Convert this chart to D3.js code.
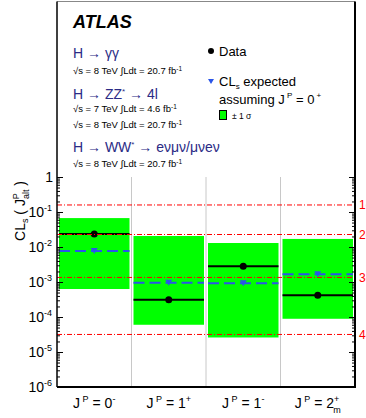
<!DOCTYPE html>
<html>
<head>
<meta charset="utf-8">
<script src="https://cdn.jsdelivr.net/npm/d3@7"></script>
<style>
  body { margin: 0; background: #fff; }
  svg { display: block; font-family: "Liberation Sans", Arial, sans-serif; }
</style>
</head>
<body>
<svg width="366" height="418"></svg>
<script>
// hypotheses (J^P of the alternative)
const spin = ['0', '1', '1', '2'];
const parity = ['-', '+', '-', '+'];
const subs = ['', '', '', 'm'];

// CLs values
const observed = [0.0235, 3.1e-4, 2.8e-3, 4.2e-4];
const expected = [0.0077, 9.5e-4, 9.2e-4, 1.66e-3];
const bandHi = [0.067, 0.0206, 0.013, 0.017];
const bandLo = [6.3e-4, 6.0e-5, 2.6e-5, 8.9e-5];

// sigma reference lines
const sigmaNames = ['1σ', '2σ', '3σ', '4σ'];
const sigmaVals = [0.1587, 0.02275, 0.00135, 3.17e-5];

const decades = [1e-6, 1e-5, 1e-4, 1e-3, 1e-2, 1e-1, 1];

const cats = spin.map((s, i) => i);
const pLeft = 57, pRight = 355, pTop = 1.5, pBottom = 387;

let svg = d3.select('svg');
let x = d3.scaleBand().domain(cats).range([pLeft, pRight]);
let y = d3.scaleLog().domain([1e-6, 1]).range([pBottom, 177]);

// green bands
svg.append('g').selectAll('rect')
    .data(cats)
    .enter()
    .append('rect')
    .attr('x', d => x(d) + 2)
    .attr('width', x.bandwidth() - 4)
    .attr('y', d => y(bandHi[d]))
    .attr('height', d => y(bandLo[d]) - y(bandHi[d]))
    .attr('fill', '#00ff00');

// separators
svg.append('g').selectAll('line')
    .data(cats.slice(1))
    .enter()
    .append('line')
    .attr('x1', d => x(d)).attr('x2', d => x(d))
    .attr('y1', y(1)).attr('y2', pBottom)
    .attr('stroke', '#c8c8c8')
    .attr('stroke-width', 1);

// expected (blue dashed + triangle)
let exp = svg.append('g');
exp.selectAll('line')
    .data(cats)
    .enter()
    .append('line')
    .attr('x1', d => x(d) + 2).attr('x2', d => x(d) + x.bandwidth() - 2)
    .attr('y1', d => y(expected[d])).attr('y2', d => y(expected[d]))
    .attr('stroke', '#2a55e8')
    .attr('stroke-width', 2)
    .attr('stroke-dasharray', '11,5');
exp.selectAll('path')
    .data(cats)
    .enter()
    .append('path')
    .attr('d', d => {
        let cx = x(d) + x.bandwidth() / 2, cy = y(expected[d]);
        return `M${cx - 3.5},${cy - 3}L${cx + 3.5},${cy - 3}L${cx},${cy + 3}Z`;
    })
    .attr('fill', '#2a55e8');

// observed (black line + dot)
let obs = svg.append('g');
obs.selectAll('line')
    .data(cats)
    .enter()
    .append('line')
    .attr('x1', d => x(d) + 2).attr('x2', d => x(d) + x.bandwidth() - 2)
    .attr('y1', d => y(observed[d])).attr('y2', d => y(observed[d]))
    .attr('stroke', '#000')
    .attr('stroke-width', 2);
obs.selectAll('circle')
    .data(cats)
    .enter()
    .append('circle')
    .attr('cx', d => x(d) + x.bandwidth() / 2)
    .attr('cy', d => y(observed[d]))
    .attr('r', 3.5)
    .attr('fill', '#000');

// sigma lines
let sig = svg.append('g');
sig.selectAll('line')
    .data(sigmaVals)
    .enter()
    .append('line')
    .attr('x1', pLeft).attr('x2', pRight)
    .attr('y1', d => y(d)).attr('y2', d => y(d))
    .attr('stroke', '#ff0000')
    .attr('stroke-width', 1)
    .attr('stroke-dasharray', '5,2,1,2');
sig.selectAll('text')
    .data(sigmaVals)
    .enter()
    .append('text')
    .attr('x', 359)
    .attr('y', d => y(d) + 4.5)
    .attr('fill', '#ff0000')
    .attr('font-size', 12)
    .text((d, i) => sigmaNames[i]);

// frame
svg.append('line').attr('x1', pLeft).attr('x2', pRight).attr('y1', pTop).attr('y2', pTop)
    .attr('stroke', '#888').attr('stroke-width', 1);
svg.append('line').attr('x1', pLeft).attr('x2', pLeft).attr('y1', pTop).attr('y2', pBottom)
    .attr('stroke', '#000').attr('stroke-width', 1.5);
svg.append('line').attr('x1', pRight).attr('x2', pRight).attr('y1', pTop).attr('y2', pBottom + 1)
    .attr('stroke', '#000').attr('stroke-width', 2);
svg.append('line').attr('x1', pLeft).attr('x2', pRight + 1).attr('y1', pBottom).attr('y2', pBottom)
    .attr('stroke', '#000').attr('stroke-width', 2);

// axes ticks
let minor = [];
decades.slice(0, -1).forEach(dec => {
    for (let k = 2; k <= 9; k++) minor.push(dec * k);
});

function styleAxis(g) {
    g.select('.domain').remove();
    g.selectAll('line').attr('stroke', '#000');
}

let yAxis = svg.append('g')
    .attr('transform', `translate(${pLeft},0)`)
    .call(d3.axisLeft(y).tickValues(decades).tickSize(-6).tickPadding(4).tickFormat(''))
    .call(styleAxis);
svg.append('g')
    .attr('transform', `translate(${pLeft},0)`)
    .call(d3.axisLeft(y).tickValues(minor).tickSize(-3).tickFormat(''))
    .call(styleAxis);
svg.append('g')
    .attr('transform', `translate(${pRight},0)`)
    .call(d3.axisRight(y).tickValues(decades).tickSize(-6).tickFormat(''))
    .call(styleAxis);
svg.append('g')
    .attr('transform', `translate(${pRight},0)`)
    .call(d3.axisRight(y).tickValues(minor).tickSize(-3).tickFormat(''))
    .call(styleAxis);

// y tick labels
yAxis.selectAll('.tick text')
    .attr('font-size', 14)
    .attr('font-family', '"Liberation Sans", Arial, sans-serif')
    .attr('fill', '#000')
    .each(function (d) {
        let t = d3.select(this);
        let e = Math.round(Math.log10(d));
        if (e === 0) {
            t.text('1').attr('dy', '0.32em');
        } else {
            t.attr('dy', '0.32em').attr('x', -5);
            t.append('tspan').text('10');
            t.append('tspan').attr('font-size', 9).attr('dy', -6).text(e);
        }
    });

// category labels
let xl = svg.append('g')
    .attr('font-size', 14);
cats.forEach(i => {
    let cx = x(i) + x.bandwidth() / 2;
    let t = xl.append('text').attr('x', cx).attr('y', 408).attr('text-anchor', 'middle');
    t.append('tspan').text('J');
    t.append('tspan').attr('font-size', 9).attr('dy', -6).text(' P');
    t.append('tspan').attr('dy', 6).text(' = ' + spin[i]);
    t.append('tspan').attr('font-size', 9).attr('dy', -6).text(parity[i]);
    if (subs[i]) {
        t.append('tspan').attr('font-size', 9).attr('dx', -6).attr('dy', 11).text(subs[i]);
    }
});

// y title
let yt = svg.append('text')
    .attr('transform', 'translate(25,211) rotate(-90)')
    .attr('text-anchor', 'middle')
    .attr('font-size', 14);
yt.append('tspan').text('CL');
yt.append('tspan').attr('font-size', 9).attr('dy', 3).text('s');
yt.append('tspan').attr('dy', -3).text(' ( J');
yt.append('tspan').attr('font-size', 9).attr('dy', -6).text('P');
yt.append('tspan').attr('font-size', 9).attr('dx', -6).attr('dy', 10).text('alt');
yt.append('tspan').attr('dy', -4).text(' )');

// ATLAS legend block
svg.append('text').attr('x', 73).attr('y', 28)
    .attr('font-size', 18).attr('font-weight', 'bold').attr('font-style', 'italic')
    .text('ATLAS');

const channels = ['H → γγ', 'H → ZZ* → 4l', 'H → WW* → eνμν/μνeν'];
const channelY = [58, 99, 152];
const lumiLines = [[74], [112, 128], [167]];
const lumiText = [['8', '20.7'], ['7', '4.6', '8', '20.7'], ['8', '20.7']];

let leg = svg.append('g');
channels.forEach((c, i) => {
    let t = leg.append('text').attr('x', 73).attr('y', channelY[i])
        .attr('font-size', 14).attr('fill', '#2b2b85');
    if (i === 0) {
        t.text(c);
    } else {
        let parts = c.split('*');
        t.append('tspan').text(parts[0]);
        t.append('tspan').attr('font-size', 8).attr('dy', -5).text('*');
        t.append('tspan').attr('dy', 5).text(parts[1]);
    }
    lumiLines[i].forEach((ly, j) => {
        let s = lumiText[i][2 * j], l = lumiText[i][2 * j + 1];
        let lt = leg.append('text').attr('x', 73).attr('y', ly).attr('font-size', 9.5);
        lt.append('tspan').text('√s = ' + s + ' TeV ∫Ldt = ' + l + ' fb');
        lt.append('tspan').attr('font-size', 6.5).attr('dy', -3.5).text('-1');
    });
});

// right legend
svg.append('circle').attr('cx', 211).attr('cy', 51).attr('r', 3).attr('fill', '#000');
svg.append('text').attr('x', 219).attr('y', 56).attr('font-size', 13).text('Data');
svg.append('path').attr('d', 'M208,79L214,79L211,84Z').attr('fill', '#2a55e8');
let cl = svg.append('text').attr('x', 219).attr('y', 86).attr('font-size', 13);
cl.append('tspan').text('CL');
cl.append('tspan').attr('font-size', 8).attr('dy', 3).text('s');
cl.append('tspan').attr('dy', -3).text(' expected');
let as = svg.append('text').attr('x', 219).attr('y', 104).attr('font-size', 13);
as.append('tspan').text('assuming J');
as.append('tspan').attr('font-size', 8).attr('dy', -6).text(' P');
as.append('tspan').attr('dy', 6).text(' = 0');
as.append('tspan').attr('font-size', 8).attr('dy', -6).text(' +');
svg.append('rect').attr('x', 219.5).attr('y', 110.5).attr('width', 7).attr('height', 9)
    .attr('fill', '#00ff00').attr('stroke', '#000').attr('stroke-width', 1);
svg.append('text').attr('x', 232).attr('y', 119).attr('font-size', 8.5).text('± 1 σ');
</script>
</body>
</html>
